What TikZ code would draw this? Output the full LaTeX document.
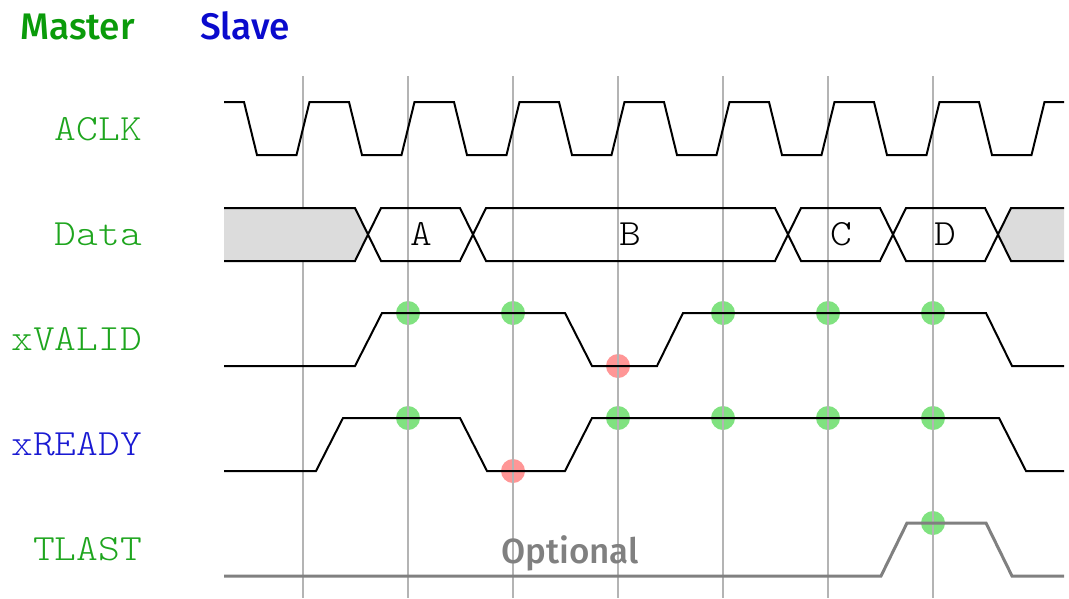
\documentclass[tikz,border=0pt]{standalone}
\usepackage{fontspec}
\setmainfont{Fira Sans}
\newfontfamily\firamed{Fira Sans}[UprightFont=* Medium]
\newfontfamily\monofnt{Latin Modern Mono Light}[FakeStretch=1.12]
\definecolor{mgreen}{RGB}{10,155,10}
\definecolor{sblue}{RGB}{10,10,205}
\definecolor{lgreen}{RGB}{30,165,30}
\definecolor{lblue}{RGB}{25,25,210}
\definecolor{gridc}{RGB}{180,180,180}
\definecolor{dotg}{RGB}{128,226,128}
\definecolor{dotr}{RGB}{255,150,150}
\definecolor{busgray}{RGB}{220,220,220}
\definecolor{optgray}{RGB}{128,128,128}
\tikzset{
  sig/.style={line width=2pt, black, line join=miter},
  gridline/.style={line width=2pt, gridc},
  siglabel/.style={anchor=east, inner sep=0pt, font=\monofnt\fontsize{37}{44}\selectfont},
  buslabel/.style={inner sep=0pt, font=\monofnt\fontsize{37}{44}\selectfont},
  title/.style={anchor=base west, inner sep=0pt, font=\firamed\fontsize{37}{44}\selectfont},
  okdot/.style={circle, fill=dotg, minimum size=24pt, inner sep=0pt},
  waitdot/.style={circle, fill=dotr, minimum size=24pt, inner sep=0pt}
}
\begin{document}
\begin{tikzpicture}[x=1pt,y=-1pt]
\useasboundingbox (0,0) rectangle (1069,598);
% titles
\node[title, text=mgreen] (master) at (20,39) {Master};
\node[title, text=sblue] (slave) at (200,39) {Slave};
% labels
\node[siglabel, text=lgreen] (laclk) at (142,129) {ACLK};
\node[siglabel, text=lgreen] (ldata) at (142,234) {Data};
\node[siglabel, text=lgreen] (lvalid) at (142,339) {xVALID};
\node[siglabel, text=lblue] (lready) at (142,444) {xREADY};
\node[siglabel, text=lgreen] (llast) at (142,549) {TLAST};
% handshake dots
\foreach \x/\n in {408/a,513/b,723/c,828/d,933/e}
  \node[okdot] (v\n) at (\x,313) {};
\node[waitdot] (vw) at (618,366) {};
\foreach \x/\n in {408/a,618/b,723/c,828/d,933/e}
  \node[okdot] (r\n) at (\x,418) {};
\node[waitdot] (rw) at (513,471) {};
\node[okdot] (la) at (933,523) {};
% grid
\foreach \k in {0,...,6}
  \draw[gridline] ({303+105*\k},76) -- ({303+105*\k},598);
% clock
\draw[sig] (224,102)
  \foreach \k in {0,...,7}{
    -- ({244+105*\k},102) -- ({257+105*\k},155)
    -- ({296.5+105*\k},155) -- ({309.5+105*\k},102)
  } -- (1064,102);
% data bus
\fill[busgray] (224,208) -- (355,208) -- (368,234.5) -- (355,261) -- (224,261) -- cycle;
\fill[busgray] (1064,208) -- (1011,208) -- (998,234.5) -- (1011,261) -- (1064,261) -- cycle;
\draw[sig] (224,208) -- (355,208) -- (381,261) -- (460,261) -- (486,208) -- (775,208)
  -- (801,261) -- (880,261) -- (906,208) -- (985,208) -- (1011,261) -- (1064,261);
\draw[sig] (224,261) -- (355,261) -- (381,208) -- (460,208) -- (486,261) -- (775,261)
  -- (801,208) -- (880,208) -- (906,261) -- (985,261) -- (1011,208) -- (1064,208);
\node[buslabel] (da) at (421,234) {A};
\node[buslabel] (db) at (630,234) {B};
\node[buslabel] (dc) at (841,234) {C};
\node[buslabel] (dd) at (945,234) {D};
% xVALID
\draw[sig] (224,366) -- (355,366) -- (382,313) -- (565,313) -- (592,366) -- (657,366)
  -- (683,313) -- (986,313) -- (1012,366) -- (1064,366);
% xREADY
\draw[sig] (224,471) -- (316,471) -- (343,418) -- (460,418) -- (487,471) -- (565,471)
  -- (592,418) -- (999,418) -- (1026,471) -- (1064,471);
% TLAST
\draw[line width=3pt, optgray] (224,576) -- (881,576) -- (907,523) -- (986,523)
  -- (1012,576) -- (1064,576);
\node[anchor=base, inner sep=0pt, text=optgray, font=\firamed\fontsize{35}{42}\selectfont] (opt) at (570,563) {Optional};
\end{tikzpicture}
\end{document}
